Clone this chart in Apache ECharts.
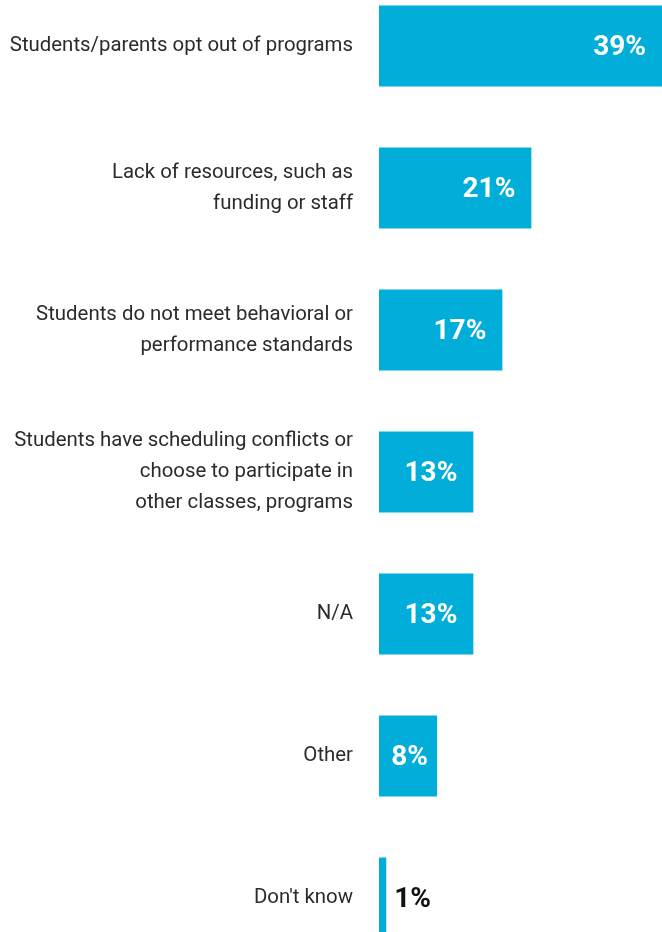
<!DOCTYPE html>
<html>
<head>
<meta charset="utf-8">
<script src="https://cdn.jsdelivr.net/npm/echarts@6/dist/echarts.min.js"></script>
<style>
  html, body { margin: 0; padding: 0; background: #ffffff; overflow: hidden; width: 662px; height: 932px; }
  /* the plot runs a little past the top and bottom edges of the page */
  #chart { position: absolute; left: 0; top: -25px; width: 662px; height: 994px; }
</style>
</head>
<body>
<div id="chart"></div>
<script>
// Reasons students do not take part, share of respondents (%)
const categories = [
  'Students/parents opt out of programs',
  'Lack of resources, such as\nfunding or staff',
  'Students do not meet behavioral or\nperformance standards',
  'Students have scheduling conflicts or\nchoose to participate in\nother classes, programs',
  'N/A',
  'Other',
  "Don't know"
];
const values = [39, 21, 17, 13, 13, 8, 1];

const barColor = '#00aed9';

const chart = echarts.init(document.getElementById('chart'));

const seriesData = values.map(function (v) {
  const item = { value: v };
  if (v < 3) {
    // too thin to hold its label: print it beside the bar in black
    item.label = { position: 'right', distance: 8, color: '#111111' };
  } else if (v < 10) {
    item.label = { distance: 9 };
  }
  return item;
});

chart.setOption({
  animation: false,
  backgroundColor: '#ffffff',
  grid: { left: 379, right: 0, top: 0, bottom: 0, containLabel: false },
  xAxis: {
    type: 'value',
    min: 0,
    max: 39,
    show: false
  },
  yAxis: {
    type: 'category',
    data: categories,
    inverse: true,
    axisLine: { show: false },
    axisTick: { show: false },
    splitLine: { show: false },
    axisLabel: {
      margin: 26,
      color: '#2b2b2b',
      fontFamily: 'Roboto',
      fontSize: 20.4,
      lineHeight: 31,
      align: 'right'
    }
  },
  series: [{
    type: 'bar',
    data: seriesData,
    barWidth: 81,
    itemStyle: { color: barColor },
    label: {
      show: true,
      position: 'insideRight',
      distance: 16,
      offset: [0, 2],
      formatter: '{c}%',
      color: '#ffffff',
      fontFamily: 'Roboto',
      fontWeight: 'bold',
      fontSize: 28
    }
  }]
});
</script>
</body>
</html>
